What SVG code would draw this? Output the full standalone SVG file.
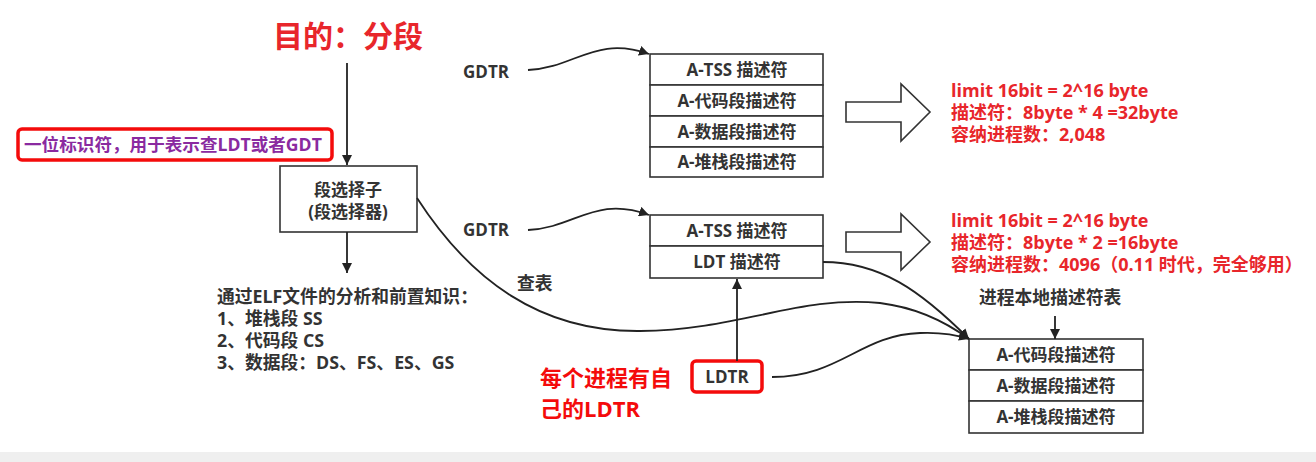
<svg xmlns="http://www.w3.org/2000/svg" width="1316" height="462" viewBox="0 0 1316 462">
<defs>
<marker id="ah" viewBox="0 0 10 10" refX="10" refY="5" markerWidth="10" markerHeight="10" markerUnits="userSpaceOnUse" orient="auto">
<path d="M0,0 L10,5 L0,10 z" fill="#222"/>
</marker>
</defs>
<style>
text{font-family:"Open Sans","Noto Sans CJK SC",sans-serif;font-weight:bold}
.box{fill:#fff;stroke:#333;stroke-width:1.6}
.t{font-size:17px;fill:#333;text-anchor:middle}
.lbl{font-size:17.8px;fill:#333}
.red{font-size:18px;fill:#e8262b}
.ln{fill:none;stroke:#222;stroke-width:1.8}
.big{fill:#fff;stroke:#333;stroke-width:1.6}
.hl{fill:#fff;stroke:#f40b0b;stroke-width:3.5}
</style>
<rect x="0" y="0" width="1316" height="462" fill="#fff"/>
<rect x="0" y="452" width="1316" height="10" fill="#efefef"/>

<g id="title"><text x="348" y="47" font-size="30" fill="#e8262b" text-anchor="middle">目的：分段</text></g>

<g id="flag-note">
<rect class="hl" x="18" y="129" width="314" height="31" rx="4"/>
<text x="24" y="151" font-size="17.6" fill="#8a2aa0">一位标识符，用于表示查LDT或者GDT</text>
</g>

<g id="selector">
<rect class="box" x="280" y="166" width="137" height="66"/>
<text class="t" x="348" y="196">段选择子</text>
<text class="t" x="348" y="218">(段选择器)</text>
</g>

<g id="elf-note">
<text class="lbl" x="217" y="303">通过ELF文件的分析和前置知识：</text>
<text class="lbl" x="217" y="325">1、堆栈段 SS</text>
<text class="lbl" x="217" y="347">2、代码段 CS</text>
<text class="lbl" x="217" y="369">3、数据段：DS、FS、ES、GS</text>
</g>

<g id="gdtr1"><text x="463" y="78" font-size="17" fill="#333">GDTR</text></g>
<g id="gdt1">
<rect class="box" x="650" y="54" width="173" height="31"/>
<rect class="box" x="650" y="85" width="173" height="31"/>
<rect class="box" x="650" y="116" width="173" height="31"/>
<rect class="box" x="650" y="147" width="173" height="30"/>
<text class="t" x="737" y="76">A-TSS 描述符</text>
<text class="t" x="737" y="107">A-代码段描述符</text>
<text class="t" x="737" y="138">A-数据段描述符</text>
<text class="t" x="737" y="168">A-堆栈段描述符</text>
</g>
<g id="arrow1"><path class="big" d="M846,102 H901 V84 L930,112 L901,141 V122 H846 Z"/></g>
<g id="info1">
<text class="red" x="951" y="97">limit 16bit = 2^16 byte</text>
<text class="red" x="951" y="119">描述符：8byte * 4 =32byte</text>
<text class="red" x="951" y="141">容纳进程数：2,048</text>
</g>

<g id="gdtr2"><text x="463" y="236" font-size="17" fill="#333">GDTR</text></g>
<g id="gdt2">
<rect class="box" x="650" y="215" width="173" height="31"/>
<rect class="box" x="650" y="246" width="173" height="32"/>
<text class="t" x="737" y="237">A-TSS 描述符</text>
<text class="t" x="737" y="268">LDT 描述符</text>
</g>
<g id="arrow2"><path class="big" d="M846,232 H901 V214 L930,242 L901,270 V252 H846 Z"/></g>
<g id="info2">
<text class="red" x="951" y="227">limit 16bit = 2^16 byte</text>
<text class="red" x="951" y="249">描述符：8byte * 2 =16byte</text>
<text class="red" x="951" y="271">容纳进程数：4096（0.11 时代，完全够用）</text>
</g>

<g id="lookup"><text class="lbl" x="517" y="290">查表</text></g>

<g id="ldt-title"><text class="lbl" x="979" y="304">进程本地描述符表</text></g>
<g id="ldt">
<rect class="box" x="969" y="339" width="174" height="31"/>
<rect class="box" x="969" y="370" width="174" height="31"/>
<rect class="box" x="969" y="401" width="174" height="32"/>
<text class="t" x="1056" y="361">A-代码段描述符</text>
<text class="t" x="1056" y="392">A-数据段描述符</text>
<text class="t" x="1056" y="423">A-堆栈段描述符</text>
</g>

<g id="ldtr">
<rect class="hl" x="692" y="361" width="70" height="31" rx="4"/>
<text class="t" x="727" y="383">LDTR</text>
</g>
<g id="ldtr-note">
<text x="540" y="386" font-size="22" fill="#f40b0b">每个进程有自</text>
<text x="540" y="417" font-size="22" fill="#f40b0b">己的LDTR</text>
</g>

<g id="connectors">
<path class="ln" d="M347,63 V165" marker-end="url(#ah)"/>
<path class="ln" d="M347,232 V273" marker-end="url(#ah)"/>
<path class="ln" d="M528,70 C575,68 595,35 649,54" marker-end="url(#ah)"/>
<path class="ln" d="M528,230 C575,228 595,195 649,215" marker-end="url(#ah)"/>
<path class="ln" d="M417,198 C470,280 540,332 640,331 C740,330 800,295 880,303 C920,308 950,325 969,339" marker-end="url(#ah)"/>
<path class="ln" d="M823,262 C880,262 920,290 969,339" marker-end="url(#ah)"/>
<path class="ln" d="M772,377 C840,377 860,335 920,333 C945,332 960,336 969,339" marker-end="url(#ah)"/>
<path class="ln" d="M737,361 V279" marker-end="url(#ah)"/>
<path class="ln" d="M1055,316 V339" marker-end="url(#ah)"/>
</g>
</svg>
